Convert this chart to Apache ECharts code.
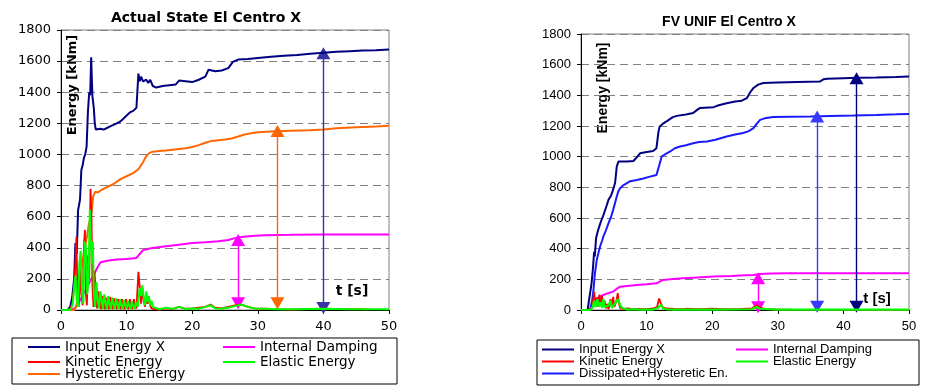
<!DOCTYPE html>
<html><head><meta charset="utf-8">
<script src="https://cdn.jsdelivr.net/npm/echarts@6/dist/echarts.min.js"></script>
<style>html,body{margin:0;padding:0;background:#fff}#c{width:932px;height:392px}</style>
</head><body><div id="c"></div>
<script>
// ---------- data (time [s], energy [kNm]) ----------
const leftInput = [[0,0],[1,0],[1.4,20],[1.7,80],[2.0,200],[2.2,430],[2.4,360],[2.6,640],[2.9,710],[3.1,900],[3.3,930],[3.5,980],[3.7,1000],[3.9,1050],[4.1,1270],[4.3,1400],[4.45,1380],[4.6,1625],[4.7,1480],[4.8,1370],[5.0,1300],[5.15,1200],[5.3,1160],[5.6,1150],[6.0,1165],[6.5,1160],[7.0,1170],[7.5,1180],[8.0,1190],[8.5,1200],[9.0,1210],[9.5,1230],[10.0,1250],[10.5,1270],[11.0,1280],[11.5,1300],[11.7,1310],[11.8,1520],[12.0,1470],[12.2,1500],[12.5,1470],[13.0,1480],[13.3,1460],[13.6,1480],[14.0,1440],[14.5,1430],[15.5,1440],[16.5,1445],[17.5,1450],[18.0,1475],[19.0,1470],[20.0,1465],[21.0,1480],[22.0,1500],[22.5,1545],[23.5,1535],[24.5,1540],[25.5,1555],[26.2,1595],[27.0,1610],[28.5,1614],[30.0,1620],[32,1628],[34,1635],[36,1640],[38,1648],[40,1654],[42,1660],[44,1664],[46,1668],[48,1670],[50,1675]];
const leftHysteretic = [[0,0],[2.0,0],[2.3,20],[2.6,100],[2.9,200],[3.2,290],[3.5,370],[3.7,410],[4.0,480],[4.2,540],[4.5,600],[4.7,640],[4.9,730],[5.2,760],[5.6,755],[6.1,770],[7.0,790],[8.0,810],[9.0,840],[10.0,860],[11.0,880],[11.8,905],[12.5,950],[13.0,990],[13.5,1010],[14.0,1018],[15.0,1022],[16.0,1025],[17.0,1030],[18.0,1035],[19.0,1040],[20.0,1048],[21.0,1060],[22.0,1075],[23.0,1087],[24.0,1092],[25.0,1096],[26.0,1103],[27.0,1115],[28.0,1128],[29.0,1137],[30.0,1142],[32.0,1148],[35.0,1152],[38.0,1156],[40.0,1160],[42.0,1168],[45.0,1175],[48.0,1180],[50.0,1185]];
const leftDamping = [[0,0],[1.5,0],[2.0,10],[2.5,30],[3.0,70],[3.5,110],[4.0,150],[4.5,190],[5.0,225],[5.5,270],[6.0,305],[6.5,312],[7.5,320],[8.5,325],[10.0,328],[11.5,335],[12.0,360],[12.5,385],[13.5,395],[14.5,402],[16.0,410],[18.0,420],[20.0,430],[22.0,435],[24.0,442],[25.5,450],[26.5,462],[27.5,470],[29.0,476],[31.0,481],[35.0,483],[40.0,486],[50.0,486]];
const leftKinetic = [[0,0],[1,0],[1.5,10],[1.8,60],[2.0,150],[2.2,300],[2.35,470],[2.5,120],[2.7,20],[2.9,250],[3.1,100],[3.3,30],[3.5,420],[3.65,515],[3.8,100],[3.95,30],[4.1,350],[4.3,200],[4.5,780],[4.65,600],[4.8,150],[4.95,20],[5.1,250],[5.3,120],[5.5,10],[5.7,120],[5.9,60],[6.1,5],[6.3,90],[6.5,40],[6.7,5],[6.9,80],[7.1,30],[7.3,5],[7.5,85],[7.7,35],[7.9,5],[8.1,75],[8.3,30],[8.5,5],[8.7,70],[8.9,30],[9.1,5],[9.3,70],[9.5,30],[9.7,5],[9.9,70],[10.1,30],[10.3,5],[10.5,70],[10.7,30],[10.9,5],[11.1,70],[11.3,30],[11.5,10],[11.8,245],[12.0,150],[12.2,40],[12.4,140],[12.6,60],[12.8,20],[13.0,90],[13.2,40],[13.4,80],[13.6,30],[13.8,10],[14.2,5],[15,3],[16,10],[17,5],[18,20],[19,8],[20,10],[21,15],[22,20],[22.8,35],[23.5,15],[24.5,10],[25.5,20],[26.5,30],[27.5,35],[28.5,20],[29.5,10],[31,8],[33,5],[35,3],[37,5],[40,8],[43,5],[46,5],[47,3]];
const leftElastic = [[0,0],[1,0],[1.5,5],[1.8,40],[2.0,150],[2.2,220],[2.4,60],[2.6,20],[2.8,300],[3.0,380],[3.2,120],[3.4,40],[3.6,440],[3.8,400],[4.0,100],[4.2,200],[4.4,645],[4.55,450],[4.7,300],[4.85,440],[5.0,120],[5.2,20],[5.4,180],[5.6,60],[5.8,10],[6.0,120],[6.2,60],[6.4,5],[6.6,100],[6.8,50],[7.0,5],[7.2,90],[7.4,40],[7.6,5],[7.8,80],[8.0,40],[8.2,5],[8.4,75],[8.6,35],[8.8,5],[9.0,70],[9.2,30],[9.4,5],[9.6,65],[9.8,30],[10.0,5],[10.2,60],[10.4,25],[10.6,5],[10.8,55],[11.0,25],[11.2,5],[11.4,50],[11.7,20],[12.0,140],[12.2,90],[12.4,160],[12.6,80],[12.8,30],[13.0,120],[13.2,50],[13.4,90],[13.6,30],[13.8,60],[14.0,20],[14.3,10],[15,5],[16,15],[17,8],[18,20],[19,5],[20,10],[21,8],[22,20],[22.8,30],[23.5,10],[24.5,8],[25.5,15],[26.5,25],[27.5,35],[28.5,20],[29.5,10],[31,8],[33,5],[36,5],[40,8],[44,5],[50,5]];

const rightInput = [[0,0],[1,0],[1.3,10],[1.6,170],[1.8,260],[2.0,380],[2.1,350],[2.3,470],[2.6,520],[2.9,560],[3.15,590],[3.35,610],[3.6,620],[3.9,680],[4.2,720],[4.5,740],[4.7,760],[5.0,800],[5.2,830],[5.45,935],[5.7,968],[6.0,965],[7.0,968],[8.0,972],[8.6,1000],[9.0,1022],[10.0,1030],[11.0,1037],[11.5,1055],[11.8,1160],[12.0,1197],[12.5,1215],[13.1,1232],[14.0,1258],[14.6,1266],[16.0,1275],[17.1,1285],[17.7,1305],[18.1,1317],[20.2,1323],[21.0,1335],[22.2,1348],[23.5,1360],[24.5,1365],[25.3,1382],[25.8,1420],[26.3,1448],[27.0,1470],[27.8,1480],[30,1484],[33,1487],[36.4,1490],[37.0,1505],[37.5,1508],[40,1512],[42,1515],[45,1517],[48,1520],[50,1523]];
const rightDissipated = [[0,0],[1,0],[1.4,5],[1.7,60],[1.9,130],[2.1,230],[2.4,326],[2.7,380],[2.9,413],[3.2,450],[3.4,478],[3.8,520],[4.2,566],[4.6,610],[4.9,653],[5.2,700],[5.45,740],[5.7,775],[5.95,794],[6.5,815],[7.0,827],[7.5,840],[8.5,848],[9.5,858],[10.5,870],[11.5,881],[11.9,940],[12.3,1001],[13.0,1020],[13.6,1034],[14.3,1055],[15.1,1066],[16.0,1075],[17.1,1088],[18.0,1095],[19.2,1099],[20.5,1110],[22.2,1132],[23.5,1145],[24.7,1154],[25.5,1165],[26.3,1186],[26.8,1215],[27.3,1240],[28.0,1250],[29.3,1258],[32,1261],[35,1262],[38,1265],[41.5,1268],[45,1272],[48,1276],[50,1279]];
const rightDamping = [[0,0],[1.3,0],[1.7,20],[2.0,45],[2.4,76],[3.0,90],[3.4,98],[4.0,108],[4.9,120],[5.5,140],[5.95,152],[7.0,157],[8.5,163],[10.0,168],[11.5,174],[12.0,185],[12.5,196],[14.0,202],[15.5,207],[17.1,211],[20.2,218],[23.0,222],[25.0,226],[26.3,228],[27.3,235],[29.0,238],[31.4,240],[40,240],[50,240]];
const rightKinetic = [[0,0],[1,0],[1.5,5],[1.8,40],[2.0,120],[2.2,30],[2.4,80],[2.6,20],[2.8,100],[3.0,40],[3.2,90],[3.4,30],[3.6,60],[3.8,10],[4.0,40],[4.2,5],[4.5,70],[4.7,20],[4.9,85],[5.1,20],[5.4,60],[5.6,110],[5.8,40],[6.0,10],[6.3,20],[6.6,5],[7,10],[8,5],[9,8],[10,5],[11,10],[11.6,20],[11.9,75],[12.2,40],[12.5,15],[13,10],[14,8],[15,5],[16,8],[18,5],[20,8],[22,5],[24,6],[26,10],[26.8,30],[27.3,15],[28,8],[29,5],[30,3],[32,2],[50,0]];
const rightElastic = [[0,0],[1,0],[1.5,3],[1.8,20],[2.0,60],[2.2,20],[2.5,70],[2.7,20],[3.0,50],[3.2,15],[3.4,70],[3.6,20],[3.9,10],[4.2,30],[4.5,60],[4.7,15],[5.0,30],[5.3,50],[5.6,70],[5.9,40],[6.2,15],[6.5,5],[7,3],[8,5],[9,3],[10,2],[11,3],[11.8,15],[12.2,35],[12.5,10],[13,5],[14,3],[16,3],[20,3],[26,5],[26.8,20],[27.3,8],[30,2],[50,2]];

// annotation arrows: time, lower tip, upper tip
const leftArrowT = [27, 33, 40];
const leftArrowLow = [43, 43, 13];
const leftArrowHigh = [450, 1151, 1650];
const rightArrowT = [27, 36, 42];
const rightArrowLow = [18, 22, 22];
const rightArrowHigh = [207, 1262, 1512];

const legendNamesLeft = ['Input Energy X','Internal Damping','Kinetic Energy','Elastic Energy','Hysteretic Energy'];
const legendNamesRight = ['Input Energy X','Internal Damping','Kinetic Energy','Elastic Energy','Dissipated+Hysteretic En.'];

// ---------- styling ----------
const C = {navy:'#000080', orange:'#ff6600', magenta:'#ff00ff', red:'#ff0000', green:'#00ff00', blue:'#1a1aff'};
const fontL = 'DejaVu Sans', fontR = 'Liberation Sans';

function arrowLine(t, lo, hi, color, idx){
  return {
    silent:true, symbol:['triangle','triangle'], symbolSize:[14,12],
    label:{show:false}, lineStyle:{color:color, width:1.4, type:'solid'},
    data: t.map((x,i)=>[{coord:[x,lo[i]]},{coord:[x,hi[i]]}]).filter((d,i)=>i===idx)
  };
}
function line(name, data, color, xi, width, z, mark){
  const s = {name, type:'line', data, xAxisIndex:xi, yAxisIndex:xi, symbol:'none', showSymbol:false,
    lineStyle:{color, width}, itemStyle:{color}, z, animation:false};
  if (mark) s.markLine = mark;
  return s;
}
function xAx(gi, font, size){
  return {type:'value', gridIndex:gi, min:0, max:50, interval:10,
    axisLine:{lineStyle:{color:'#000', width:1}}, axisTick:{show:true, length:4, lineStyle:{color:'#000'}},
    splitLine:{show:false}, axisLabel:{color:'#000', fontFamily:font, fontSize:size, margin:10}};
}
function yAx(gi, font, size){
  return {type:'value', gridIndex:gi, min:0, max:1800, interval:200,
    axisLine:{show:true, lineStyle:{color:'#000', width:1}}, axisTick:{show:true, length:4, lineStyle:{color:'#000'}},
    splitLine:{show:true, lineStyle:{color:'#808080', type:[8,5], width:1}},
    axisLabel:{color:'#000', fontFamily:font, fontSize:size, margin:10, formatter:(v)=>String(v)}};
}
function leg(name, left, top, font, size){
  return {data:[{name, icon:'rect'}], left, top, padding:0, itemWidth:32, itemHeight:2, itemGap:0,
    textStyle:{fontFamily:font, fontSize:size, color:'#000'}, selectedMode:false};
}

const chart = echarts.init(document.getElementById('c'), null, {renderer:'canvas'});
chart.setOption({
  animation:false,
  backgroundColor:'#fff',
  grid:[
    {left:61, top:30, width:328, height:280, show:true, borderColor:'#808080', borderWidth:1},
    {left:581, top:34, width:328, height:276, show:true, borderColor:'#808080', borderWidth:1}
  ],
  xAxis:[xAx(0, fontL, 13), xAx(1, fontR, 13)],
  yAxis:[yAx(0, fontL, 13), yAx(1, fontR, 13)],
  legend:[
    leg(legendNamesLeft[0], 28, 340, fontL, 13.5),
    leg(legendNamesLeft[1], 223, 340, fontL, 13.5),
    leg(legendNamesLeft[2], 28, 355, fontL, 13.5),
    leg(legendNamesLeft[3], 223, 355, fontL, 13.5),
    leg(legendNamesLeft[4], 28, 367, fontL, 13.5),
    leg(legendNamesRight[0], 542, 343, fontR, 13),
    leg(legendNamesRight[1], 736, 343, fontR, 13),
    leg(legendNamesRight[2], 542, 355, fontR, 13),
    leg(legendNamesRight[3], 736, 355, fontR, 13),
    leg(legendNamesRight[4], 542, 367, fontR, 13)
  ],
  graphic:[
    {type:'text', x:206, y:18, style:{text:'Actual State El Centro X', font:'bold 14px "DejaVu Sans"', fill:'#000', align:'center', verticalAlign:'middle'}},
    {type:'text', x:729, y:22, style:{text:'FV UNIF El Centro X', font:'bold 14px "Liberation Sans"', fill:'#000', align:'center', verticalAlign:'middle'}},
    {type:'text', x:73, y:85, rotation:Math.PI/2, style:{text:'Energy [kNm]', font:'bold 13px "DejaVu Sans"', fill:'#000', align:'center', verticalAlign:'middle'}},
    {type:'text', x:603, y:88, rotation:Math.PI/2, style:{text:'Energy [kNm]', font:'bold 14px "Liberation Sans"', fill:'#000', align:'center', verticalAlign:'middle'}},
    {type:'text', x:352, y:291, style:{text:'t [s]', font:'bold 14px "DejaVu Sans"', fill:'#000', align:'center', verticalAlign:'middle'}},
    {type:'text', x:877, y:299, style:{text:'t [s]', font:'bold 15px "Liberation Sans"', fill:'#000', align:'center', verticalAlign:'middle'}},
    {type:'rect', shape:{x:12, y:338, width:385, height:46}, style:{fill:'none', stroke:'#000', lineWidth:1}},
    {type:'rect', shape:{x:537, y:340, width:382, height:45}, style:{fill:'none', stroke:'#000', lineWidth:1}}
  ],
  series:[
    line('Input Energy X', leftInput, C.navy, 0, 2, 5, arrowLine(leftArrowT, leftArrowLow, leftArrowHigh, '#3535a8', 2)),
    line('Hysteretic Energy', leftHysteretic, C.orange, 0, 2, 4, arrowLine(leftArrowT, leftArrowLow, leftArrowHigh, C.orange, 1)),
    line('Internal Damping', leftDamping, C.magenta, 0, 2, 3, arrowLine(leftArrowT, leftArrowLow, leftArrowHigh, C.magenta, 0)),
    line('Kinetic Energy', leftKinetic, C.red, 0, 1.8, 6),
    line('Elastic Energy', leftElastic, C.green, 0, 2, 7),
    line('Input Energy X', rightInput, C.navy, 1, 2, 5, arrowLine(rightArrowT, rightArrowLow, rightArrowHigh, C.navy, 2)),
    line('Dissipated+Hysteretic En.', rightDissipated, C.blue, 1, 2, 4, arrowLine(rightArrowT, rightArrowLow, rightArrowHigh, '#3a3aff', 1)),
    line('Internal Damping', rightDamping, C.magenta, 1, 2, 3, arrowLine(rightArrowT, rightArrowLow, rightArrowHigh, C.magenta, 0)),
    line('Kinetic Energy', rightKinetic, C.red, 1, 1.8, 6),
    line('Elastic Energy', rightElastic, C.green, 1, 2.2, 7)
  ]
});
</script></body></html>
